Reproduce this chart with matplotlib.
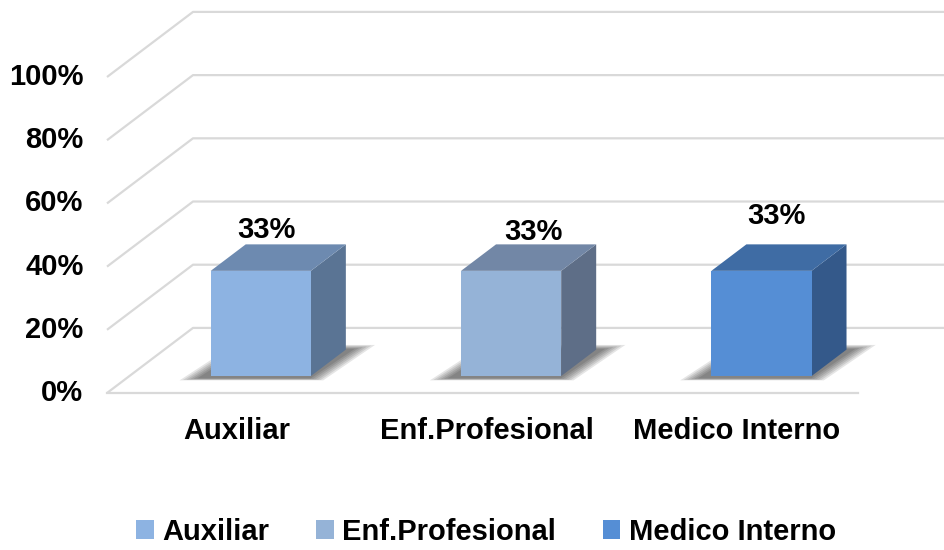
import matplotlib
matplotlib.use("Agg")
import matplotlib.pyplot as plt
from matplotlib.patches import Polygon, Patch

categories = ["Auxiliar", "Enf.Profesional", "Medico Interno"]
values = [33.3, 33.3, 33.3]
labels = ["33%", "33%", "33%"]
yticks = [0, 20, 40, 60, 80, 100]

front_colors = ["#8DB3E2", "#95B3D7", "#558ED5"]
top_colors = ["#6D8AB0", "#7287A6", "#3F6CA4"]
side_colors = ["#5A7494", "#5E6E87", "#34598A"]
# label nudges in points (Excel placed them a bit unevenly)
label_nudge = [(-14, 10), (-2, 8), (-7, 20)]

plt.rcParams['font.family'] = ['Liberation Sans', 'DejaVu Sans']

# oblique projection: depth z in [0, 1] shifts points right/up
DX, DY = 0.3436, 20.6


def proj(x, y, z):
    return (x + DX * z, y + DY * z)


fig = plt.figure(figsize=(9.44, 5.5), dpi=100)
ax = fig.add_axes([0, 0, 1, 1])
ax.set_xlim(-0.9274, 2.8436)
ax.set_ylim(-49.68, 124.37)
ax.axis("off")

FS = 21
grid = "#D9D9D9"
for t in yticks:
    p0 = proj(-0.5, t, 0)
    p1 = proj(-0.5, t, 1)
    p2 = proj(2.5, t, 1)
    ax.plot([p0[0], p1[0], p2[0]], [p0[1], p1[1], p2[1]], color=grid, lw=1.6, zorder=1,
            solid_capstyle="butt")
    ax.annotate(f"{t}%", xy=p0, xytext=(-17, 0), textcoords="offset points",
                ha="right", va="center", fontsize=FS, fontweight="bold")
# floor front edge
f0, f1 = proj(-0.5, 0, 0), proj(2.5, 0, 0)
ax.plot([f0[0], f1[0]], [f0[1], f1[1]], color=grid, lw=1.6, zorder=1)

w = 0.40
off = 0.025
z0, z1 = 0.26, 0.667
for i, v in enumerate(values):
    xl, xr = i + off - w / 2, i + off + w / 2
    # blurred floor shadow
    for k in range(6):
        e = 0.012 * (6 - k)
        pts = [proj(xl - e - 0.03, 0, z0 - 0.03 - e * 0.5), proj(xr + e, 0, z0 - 0.03 - e * 0.5),
               proj(xr + e + 0.02, 0, z1 + e), proj(xl - e, 0, z1 + e)]
        ax.add_patch(Polygon(pts, closed=True, fc="#000000", ec="none", alpha=0.1, zorder=2))
    front = [proj(xl, 0, z0), proj(xr, 0, z0), proj(xr, v, z0), proj(xl, v, z0)]
    side = [proj(xr, 0, z0), proj(xr, 0, z1), proj(xr, v, z1), proj(xr, v, z0)]
    top = [proj(xl, v, z0), proj(xr, v, z0), proj(xr, v, z1), proj(xl, v, z1)]
    ax.add_patch(Polygon(side, closed=True, fc=side_colors[i], ec="none", zorder=3))
    ax.add_patch(Polygon(top, closed=True, fc=top_colors[i], ec="none", zorder=3))
    ax.add_patch(Polygon(front, closed=True, fc=front_colors[i], ec="none", zorder=4))
    lx, ly = proj(i + off + 0.03, v, (z0 + z1) / 2)
    ax.annotate(labels[i], xy=(lx, ly), xytext=label_nudge[i], textcoords="offset points",
                ha="center", va="bottom", fontsize=FS, fontweight="bold", zorder=5)
    cx, cy = proj(i, 0, 0)
    ax.annotate(categories[i], xy=(cx, cy), xytext=(3, -27), textcoords="offset points",
                ha="center", va="center", fontsize=FS, fontweight="bold")

handles = [Patch(facecolor=c, edgecolor="none") for c in front_colors]
fig.legend(handles, categories, loc="center", bbox_to_anchor=(0.515, 0.033), ncol=3,
           frameon=False, prop={"size": FS, "weight": "bold"},
           handlelength=0.6, handleheight=0.6, handletextpad=0.3, columnspacing=1.6)

fig.savefig("out.png", dpi=100)
